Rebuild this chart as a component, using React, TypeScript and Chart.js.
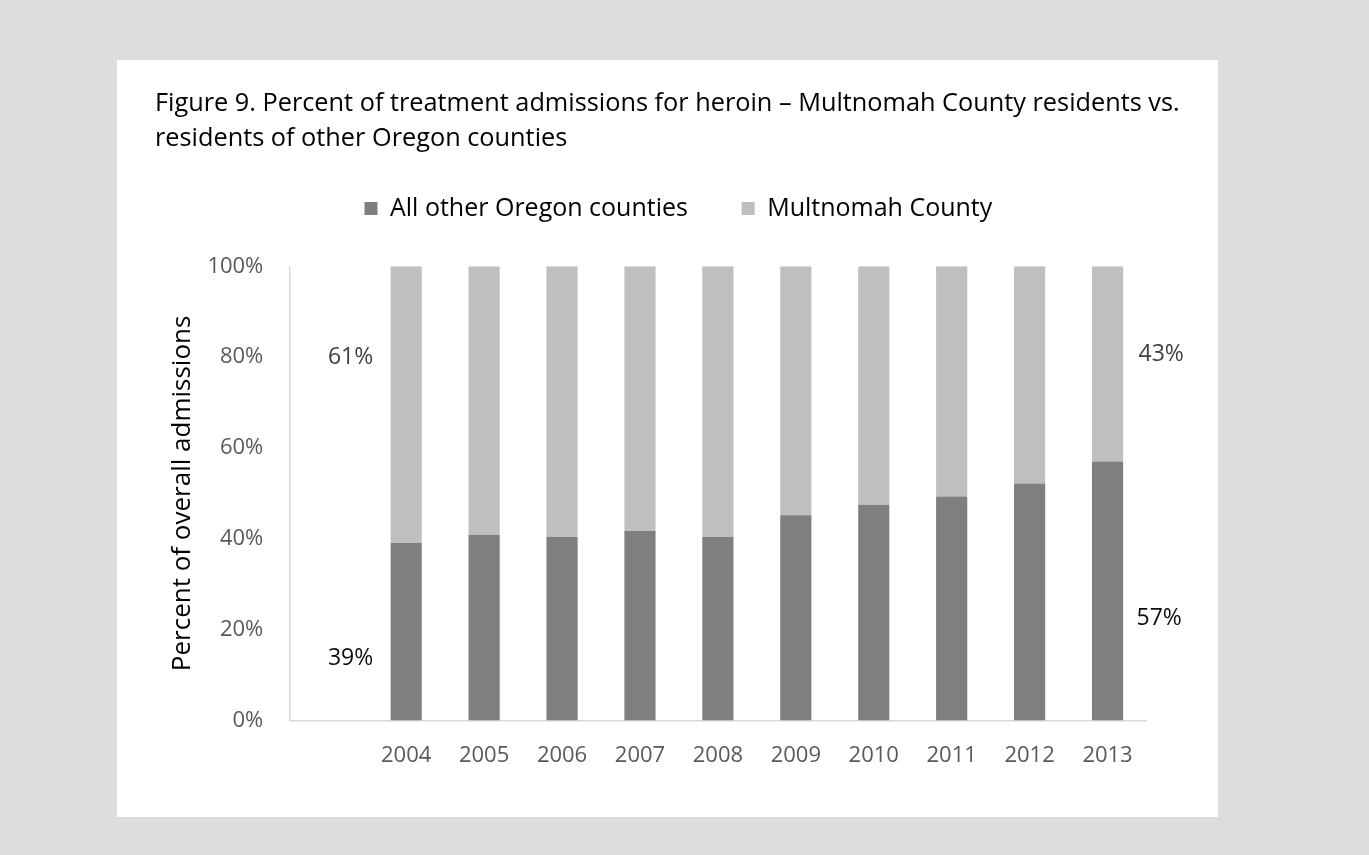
import React, { useEffect, useRef } from 'react';
import { Chart, registerables } from 'chart.js';

Chart.register(...registerables);

// ---------- data ----------
const categories = ['', '2004', '2005', '2006', '2007', '2008', '2009', '2010', '2011', '2012', '2013'];
const otherCounties = [null, 39.1, 40.9, 40.4, 41.7, 40.4, 45.2, 47.5, 49.3, 52.2, 57.0];
const multnomah = [null, 60.9, 59.1, 59.6, 58.3, 59.6, 54.8, 52.5, 50.7, 47.8, 43.0];
const yTickValues = [0, 20, 40, 60, 80, 100];
const titleLines = [
  'Figure 9. Percent of treatment admissions for heroin \u2013 Multnomah County residents vs.',
  'residents of other Oregon counties',
];
const seriesNames = ['All other Oregon counties', 'Multnomah County'];
const yAxisTitle = 'Percent of overall admissions';

// ---------- styling ----------
const FONT = '"Open Sans"';
const PANEL_W = 1101;
const PANEL_H = 757;
const LEGEND_FONT = 25;
const LEGEND_BOX = 13;
const LEGEND_MID_Y = 148.5;
const LEGEND_CENTER_X = 561.4;
const LEGEND_BOX_H = 109.8;

const legendLayoutPlugin = {
  id: 'legendLayout',
  beforeUpdate(chart: any) {
    const lg = chart.legend;
    if (lg && !lg.__patched) {
      const orig = lg.fit.bind(lg);
      lg.fit = function () {
        orig();
        this.height = LEGEND_BOX_H;
      };
      lg.__patched = true;
    }
  },
  afterLayout(chart: any) {
    const lg = chart.legend;
    if (lg) {
      const itemH = Math.max(LEGEND_FONT, LEGEND_BOX);
      const pad = lg.options.labels.padding;
      const h = lg.height;
      lg.top = LEGEND_MID_Y - pad - itemH / 2;
      lg.bottom = lg.top + h;
      const shift = LEGEND_CENTER_X - (lg.left + lg.right) / 2;
      lg.left += shift;
      lg.right += shift;
    }
    const tb = chart.titleBlock;
    if (tb) {
      tb.right = PANEL_W - 10;
      tb.width = tb.right - tb.left;
    }
  },
};

const endLabelsPlugin = {
  id: 'endLabels',
  afterDatasetsDraw(chart: any) {
    const { ctx, scales } = chart;
    const x = scales.x;
    const y = scales.y;
    const first = 1;
    const last = categories.length - 1;
    ctx.save();
    ctx.font = `23px ${FONT}`;
    ctx.textBaseline = 'middle';
    // left side labels
    ctx.textAlign = 'right';
    const xl = x.getPixelForValue(first) - 33;
    ctx.fillStyle = '#404040';
    ctx.fillText(`${Math.round(multnomah[first] as number)}%`, xl, y.getPixelForValue(80));
    ctx.fillStyle = '#0d0d0d';
    ctx.fillText(`${Math.round(otherCounties[first] as number)}%`, xl, y.getPixelForValue(13.7));
    // right side labels
    ctx.textAlign = 'left';
    const xr = x.getPixelForValue(last) + 29;
    ctx.fillStyle = '#404040';
    ctx.fillText(`${Math.round(multnomah[last] as number)}%`, xr + 2, y.getPixelForValue(80.7));
    ctx.fillStyle = '#0d0d0d';
    ctx.fillText(`${Math.round(otherCounties[last] as number)}%`, xr, y.getPixelForValue(22.5));
    ctx.restore();
  },
};

export default function App() {
  const canvasRef = useRef<HTMLCanvasElement | null>(null);

  useEffect(() => {
    if (!canvasRef.current) return;
    const chart = new Chart(canvasRef.current, {
      type: 'bar',
      data: {
        labels: categories,
        datasets: [
          {
            label: seriesNames[0],
            data: otherCounties,
            backgroundColor: '#7f7f7f',
            borderWidth: 0,
            categoryPercentage: 0.4,
            barPercentage: 1,
          },
          {
            label: seriesNames[1],
            data: multnomah,
            backgroundColor: '#bfbfbf',
            borderWidth: 0,
            categoryPercentage: 0.4,
            barPercentage: 1,
          },
        ],
      },
      options: {
        animation: false,
        responsive: false,
        maintainAspectRatio: false,
        layout: { padding: { left: 38, right: 71.5, top: 0, bottom: 26.1 } },
        plugins: {
          title: {
            display: true,
            text: titleLines,
            align: 'start',
            color: '#000000',
            font: { family: FONT, size: 25.3, weight: 'normal', lineHeight: 35 / 25.3 },
            padding: { top: 26.5, bottom: 0 },
          },
          legend: {
            display: true,
            position: 'top',
            align: 'center',
            labels: {
              color: '#000000',
              font: { family: FONT, size: LEGEND_FONT },
              boxWidth: LEGEND_BOX,
              boxHeight: LEGEND_BOX,
              padding: 53.7,
            },
          },
          tooltip: { enabled: false },
        },
        scales: {
          x: {
            stacked: true,
            offset: true,
            grid: { display: false, drawTicks: false },
            border: { display: true, color: '#d9d9d9', width: 1.5 },
            ticks: {
              color: '#595959',
              font: { family: FONT, size: 22 },
              padding: 22,
              maxRotation: 0,
              autoSkip: false,
            },
          },
          y: {
            stacked: true,
            min: 0,
            max: 100,
            grid: { display: false, drawTicks: false },
            border: { display: true, color: '#d9d9d9', width: 1.5 },
            afterBuildTicks: (scale: any) => {
              scale.ticks = yTickValues.map((v) => ({ value: v }));
            },
            afterFit: (scale: any) => {
              scale.width = 172.3 - 38;
            },
            ticks: {
              color: '#595959',
              font: { family: FONT, size: 22 },
              padding: 26,
              callback: (v: any) => `${v}%`,
            },
            title: {
              display: true,
              text: yAxisTitle,
              color: '#000000',
              font: { family: FONT, size: 26 },
              padding: { top: 12.4, bottom: 0 },
            },
          },
        },
      },
      plugins: [legendLayoutPlugin, endLabelsPlugin],
    } as any);
    return () => chart.destroy();
  }, []);

  return (
    <div
      style={{
        position: 'absolute',
        left: 0,
        top: 0,
        width: 1369,
        height: 855,
        background: '#dcdddf',
        overflow: 'hidden',
      }}
    >
      <div
        style={{
          position: 'absolute',
          left: 117,
          top: 60,
          width: PANEL_W,
          height: PANEL_H,
          background: '#ffffff',
        }}
      >
        <canvas
          ref={canvasRef}
          width={PANEL_W}
          height={PANEL_H}
          style={{ width: PANEL_W, height: PANEL_H, display: 'block' }}
        />
      </div>
    </div>
  );
}
